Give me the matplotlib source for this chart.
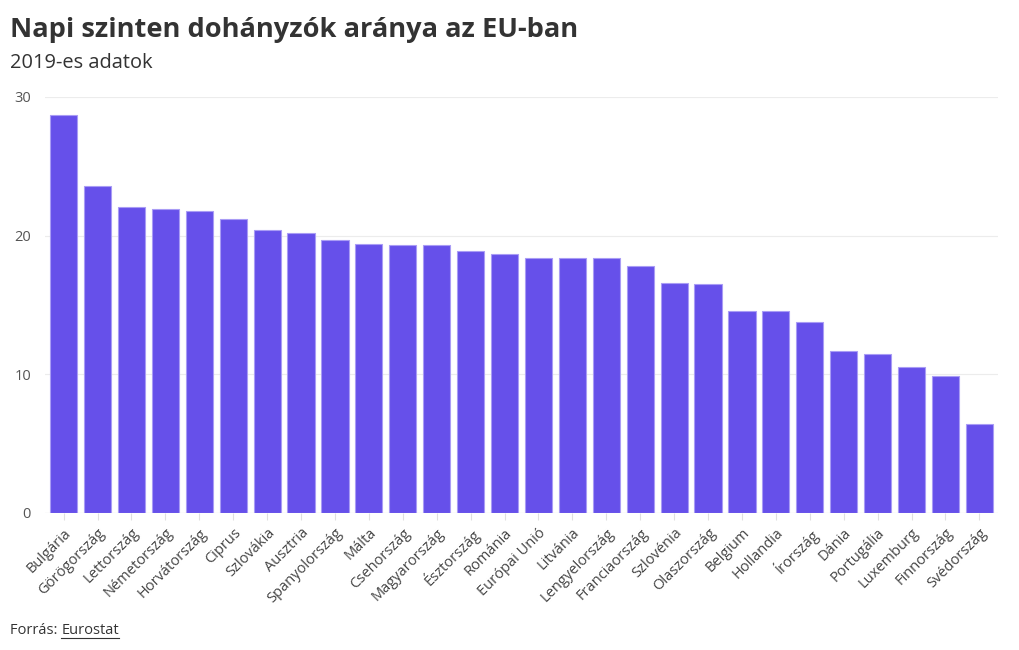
import matplotlib
matplotlib.use("Agg")
import matplotlib.pyplot as plt
import numpy as np

# 2019-es adatok, napi szinten dohányzók aránya (%)
countries = ["Bulgária", "Görögország", "Lettország", "Németország", "Horvátország",
             "Ciprus", "Szlovákia", "Ausztria", "Spanyolország", "Málta",
             "Csehország", "Magyarország", "Észtország", "Románia", "Európai Unió",
             "Litvánia", "Lengyelország", "Franciaország", "Szlovénia", "Olaszország",
             "Belgium", "Hollandia", "Írország", "Dánia", "Portugália",
             "Luxemburg", "Finnország", "Svédország"]
values = [28.7, 23.6, 22.1, 21.9, 21.8,
          21.2, 20.4, 20.2, 19.7, 19.4,
          19.3, 19.3, 18.9, 18.7, 18.4,
          18.4, 18.4, 17.8, 16.6, 16.5,
          14.6, 14.6, 13.8, 11.7, 11.5,
          10.5, 9.9, 6.4]
yticks = [0, 10, 20, 30]

plt.rcParams['font.family'] = ['Open Sans', 'DejaVu Sans']

fig = plt.figure(figsize=(10.2, 6.5), dpi=100)
ax = fig.add_axes([45 / 1020, 1 - 513 / 650, (998 - 45) / 1020, (513 - 97) / 650])

x = np.arange(len(countries))
ax.bar(x, values, width=0.8, color="#6650ea", edgecolor="#a99cf5", linewidth=0.8, zorder=3)

ax.set_xlim(-0.55, len(countries) - 0.45)
ax.set_ylim(0, 30)
ax.set_yticks(yticks)
ax.set_yticklabels([str(t) for t in yticks], fontsize=10.5, color="#555555")
ax.yaxis.grid(True, color="#ececec", linewidth=0.8, zorder=0)
ax.tick_params(axis="y", length=0, pad=10)

ax.set_xticks(x)
ax.set_xticklabels(countries, rotation=45, ha="right", rotation_mode="anchor",
                   fontsize=10.5, color="#444444")
ax.tick_params(axis="x", length=5, color="#e0e0e0", pad=4)

for s in ax.spines.values():
    s.set_visible(False)
ax.axhline(0, color="#e0e0e0", linewidth=0.8, zorder=2)

fig.text(10 / 1020, 1 - 30 / 650, "Napi szinten dohányzók aránya az EU-ban",
         fontsize=19.6, fontweight="bold", color="#333333", va="center")
fig.text(10 / 1020, 1 - 63 / 650, "2019-es adatok", fontsize=14.4, color="#333333", va="center")
t1 = fig.text(10 / 1020, 1 - 631 / 650, "Forrás: ", fontsize=10.5, color="#333333", va="center")
fig.canvas.draw()
bb = t1.get_window_extent()
t2 = fig.text(bb.x1 / 1020, 1 - 631 / 650, "Eurostat", fontsize=10.5, color="#333333",
              va="center")
fig.canvas.draw()
bb2 = t2.get_window_extent()
fig.add_artist(plt.Line2D([bb2.x0 / 1020, bb2.x1 / 1020], [1 - 638 / 650, 1 - 638 / 650],
                          color="#333333", linewidth=0.8))

fig.savefig("out.png", dpi=100)
